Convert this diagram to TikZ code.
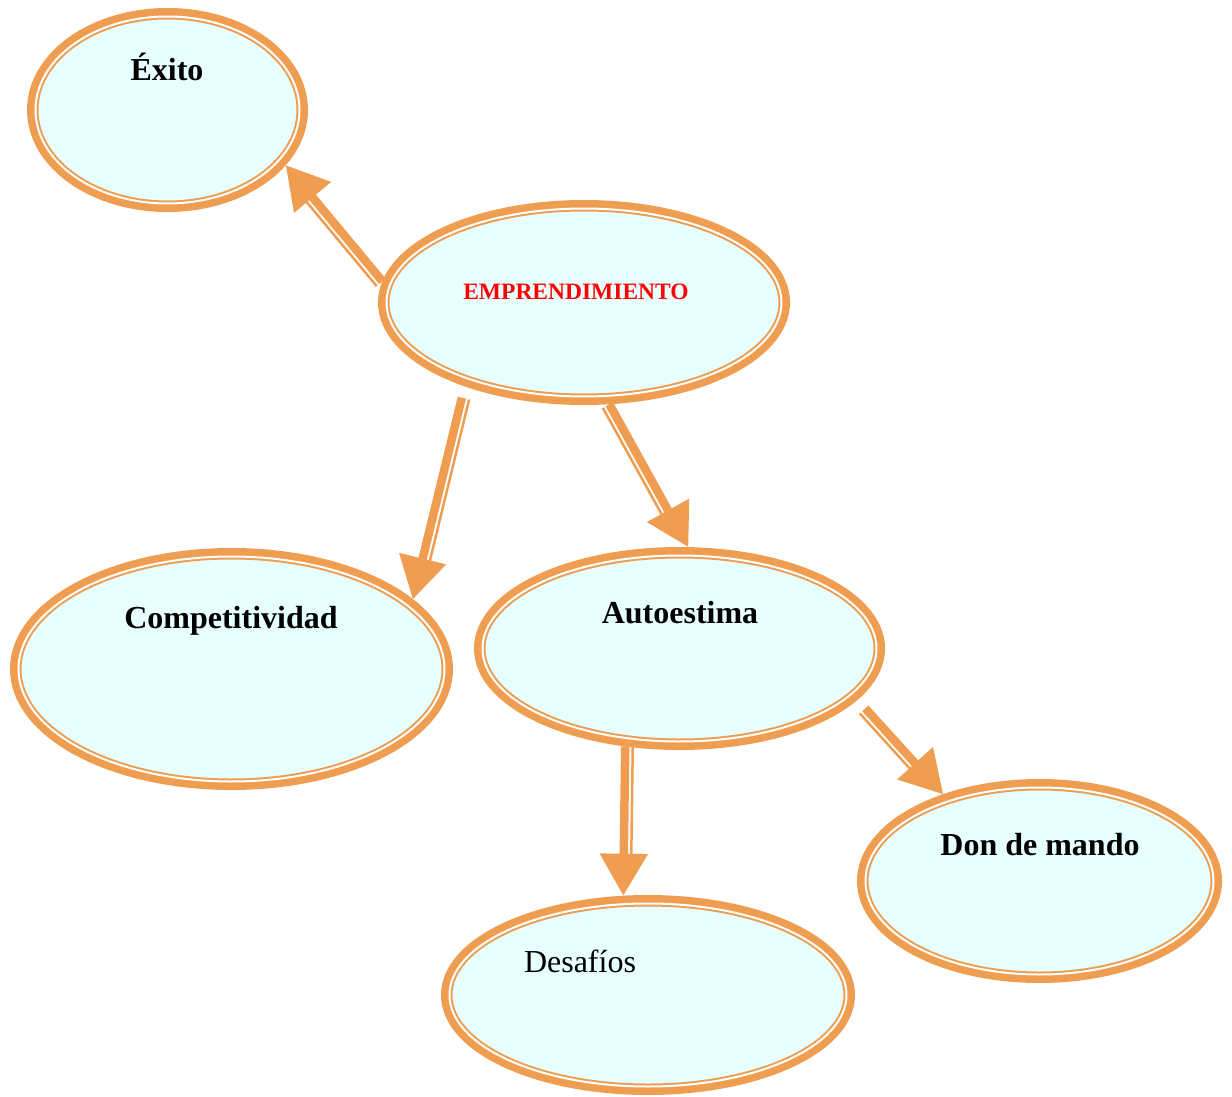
\documentclass[tikz,border=0pt]{standalone}
\usepackage{fontspec}
\setmainfont{Liberation Serif}
\usepackage{tikz}
\usetikzlibrary{shapes.geometric,arrows.meta,calc}
\definecolor{ringorange}{HTML}{EE9D51}
\definecolor{bubblecyan}{HTML}{E8FFFF}

% thick shaft with a thin companion line on one side
\newcommand{\twinarrow}[4][]{%
  \draw[shaft,#1] (#2) -- (#3);
  \draw[sideline,#1] ($(#2)!#4!90:(#3)$) -- ($(#3)!#4!-90:(#2)$);
}

\begin{document}
\begin{tikzpicture}[
    x=1pt, y=-1pt,
    bubble/.style={ellipse, fill=bubblecyan, draw=ringorange, line width=2pt, double=white, double distance=2pt,
                   preaction={draw=ringorange, line width=17pt}, inner sep=0pt, outer sep=8.5pt},
    title/.style={anchor=base, font=\fontsize{32}{38}\selectfont\bfseries},
    plain/.style={anchor=base, font=\fontsize{32}{38}\selectfont},
    keyword/.style={anchor=base, text=red, font=\fontsize{23.5}{28}\selectfont\bfseries},
    shaft/.style={draw=ringorange, line width=8.5pt, -{Triangle[length=42pt, width=46pt]}},
    sideline/.style={draw=ringorange, line width=2.5pt, shorten >=40pt}
]
\useasboundingbox (0,0) rectangle (1232,1097);

% Central concept
\node[bubble, minimum width=395pt, minimum height=188pt] (empr) at (584,302.5) {};
\node[keyword] (empr-label) at (576,299) {EMPRENDIMIENTO};

% Upper left
\node[bubble, minimum width=264pt, minimum height=187pt] (exito) at (167.5,110) {};
\node[title] (exito-label) at (167,81) {Éxito};

% Middle row
\node[bubble, minimum width=426pt, minimum height=225pt] (comp) at (231.5,669) {};
\node[title] (comp-label) at (231,628) {Competitividad};

\node[bubble, minimum width=394pt, minimum height=186pt] (auto) at (679.5,648.5) {};
\node[title] (auto-label) at (680,623) {Autoestima};

% Bottom row
\node[bubble, minimum width=348pt, minimum height=187pt] (don) at (1039.5,881) {};
\node[title] (don-label) at (1040,855) {Don de mando};

\node[bubble, minimum width=397pt, minimum height=183pt] (desa) at (648,995) {};
\node[plain] (desa-label) at (580,972) {Desafíos};

% Arrows
\twinarrow{empr.174}{exito.-25}{7.5pt}
\twinarrow[shorten <=12pt]{empr.-145}{comp.21}{7.5pt}
\twinarrow{empr.-76}{auto.85}{-7.5pt}
\twinarrow[shorten <=12pt]{auto.-16}{don.138}{-7.5pt}
\twinarrow{auto.-119}{desa.104}{7.5pt}

\end{tikzpicture}
\end{document}
